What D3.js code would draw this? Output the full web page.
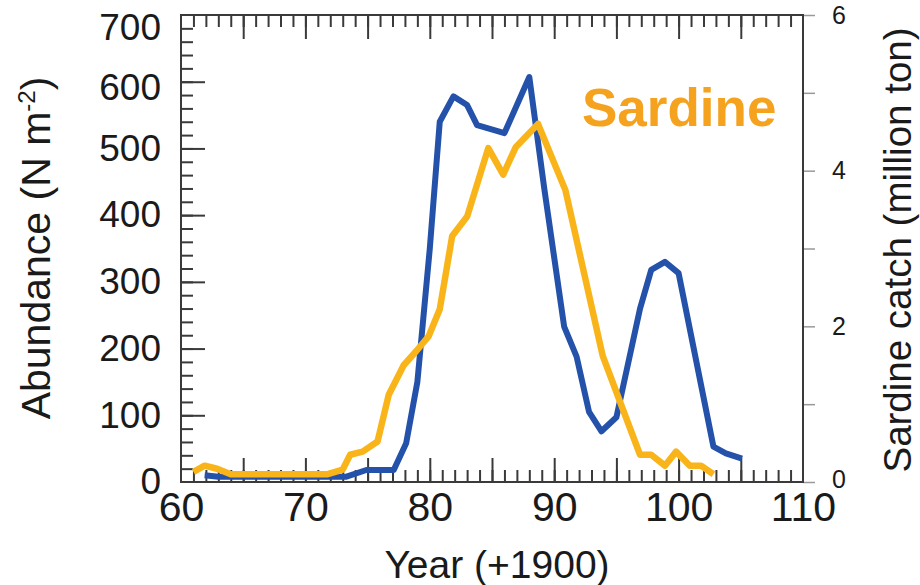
<!DOCTYPE html>
<html>
<head>
<meta charset="utf-8">
<script src="https://cdn.jsdelivr.net/npm/d3@7"></script>
<style>
  body { margin: 0; background: #fff; }
  svg { display: block; font-family: 'Liberation Sans', Arial, sans-serif; }
</style>
</head>
<body>
<svg id="chart" width="920" height="585"></svg>
<script>
// abundance (blue, left axis)
const abundanceYears = [61.9, 63, 73.3, 74.9, 77.1, 78.1, 79, 80, 80.8, 81.9, 83.0, 83.8, 86.0, 88.0, 89.2, 90.8, 91.8, 92.8, 93.8, 95.0, 96.9, 97.8, 98.9, 100.0, 102.8, 103.8, 105.1]
const abundance = [10, 8, 8, 18, 18, 58, 150, 350, 540, 578, 565, 535, 523, 607, 440, 233, 188, 105, 76, 97, 260, 318, 330, 313, 53, 43, 35]

// sardine catch (orange, right axis)
const catchYears = [61.0, 61.9, 62.9, 64.0, 71.8, 73.0, 73.6, 74.6, 75.8, 76.7, 77.9, 78.9, 79.9, 80.8, 81.8, 83.0, 84.7, 85.9, 86.9, 88.7, 90.9, 93.9, 96.9, 97.8, 98.9, 99.8, 100.9, 101.8, 102.8]
const sardineCatch = [0.13, 0.21, 0.17, 0.1, 0.1, 0.16, 0.35, 0.39, 0.52, 1.12, 1.5, 1.68, 1.87, 2.22, 3.16, 3.41, 4.29, 3.95, 4.3, 4.6, 3.75, 1.62, 0.35, 0.35, 0.21, 0.39, 0.21, 0.21, 0.1]

const xLabelTicks = [60, 70, 80, 90, 100, 110]
const leftLabelTicks = [0, 100, 200, 300, 400, 500, 600, 700]
const rightLabelTicks = [0, 2, 4, 6]

const svg = d3.select('#chart')
const plotLeft = 181
const plotRight = 803
const plotTop = 15
const plotBottom = 482
const frameColor = '#3a3a3a'

const x = d3.scaleLinear().domain([60, 110]).range([plotLeft, plotRight])
const y = d3.scaleLinear().domain([0, 700]).range([plotBottom, plotTop])
const y2 = d3.scaleLinear().domain([0, 6]).range([plotBottom, plotTop])

function styleAxis (g) {
  g.select('.domain').remove()
  g.selectAll('.tick line').attr('stroke', frameColor).attr('stroke-width', 2)
  g.selectAll('text').attr('fill', '#1a1a1a')
}

// minor ticks
svg.append('g')
  .attr('transform', `translate(0,${plotBottom})`)
  .call(d3.axisBottom(x).tickValues(d3.range(61, 110)).tickSizeInner(-12).tickSizeOuter(0).tickFormat(''))
  .call(styleAxis)
svg.append('g')
  .attr('transform', `translate(0,${plotTop})`)
  .call(d3.axisTop(x).tickValues(d3.range(61, 110)).tickSizeInner(-12).tickSizeOuter(0).tickFormat(''))
  .call(styleAxis)
svg.append('g')
  .attr('transform', `translate(${plotLeft},0)`)
  .call(d3.axisLeft(y).tickValues(d3.range(20, 700, 20)).tickSizeInner(-12).tickSizeOuter(0).tickFormat(''))
  .call(styleAxis)

// major ticks (every 5 years / every 100)
svg.append('g')
  .attr('transform', `translate(0,${plotBottom})`)
  .call(d3.axisBottom(x).tickValues(d3.range(65, 110, 5)).tickSizeInner(-24).tickSizeOuter(0).tickFormat(''))
  .call(styleAxis)
svg.append('g')
  .attr('transform', `translate(0,${plotTop})`)
  .call(d3.axisTop(x).tickValues(d3.range(65, 110, 5)).tickSizeInner(-24).tickSizeOuter(0).tickFormat(''))
  .call(styleAxis)
svg.append('g')
  .attr('transform', `translate(${plotLeft},0)`)
  .call(d3.axisLeft(y).tickValues(d3.range(100, 700, 100)).tickSizeInner(-24).tickSizeOuter(0).tickFormat(''))
  .call(styleAxis)

// labels
svg.append('g')
  .attr('transform', `translate(0,${plotBottom})`)
  .call(d3.axisBottom(x).tickValues(xLabelTicks).tickSize(0).tickPadding(10))
  .call(styleAxis)
  .call(g => g.selectAll('text').attr('font-size', 41))
  .attr('font-family', null)
svg.append('g')
  .attr('transform', `translate(${plotLeft},0)`)
  .call(d3.axisLeft(y).tickValues(leftLabelTicks).tickSize(0).tickPadding(20))
  .call(styleAxis)
  .call(g => g.selectAll('text').attr('font-size', 37)
    .attr('dy', d => d === 700 ? '0.67em' : d === 600 ? '0.48em' : '0.32em'))
  .attr('font-family', null)

// right axis, outside ticks
svg.append('g')
  .attr('transform', `translate(${plotRight},0)`)
  .call(d3.axisRight(y2).tickValues(d3.range(0, 7)).tickSizeInner(12).tickSizeOuter(0).tickPadding(17)
    .tickFormat(d => rightLabelTicks.includes(d) ? d : ''))
  .call(styleAxis)
  .call(g => g.selectAll('.tick line').attr('stroke', '#999').attr('stroke-width', 1.5))
  .call(g => g.selectAll('text').attr('font-size', 25).attr('dy', d => d === 0 ? '0.2em' : '0.32em'))
  .attr('font-family', null)

// frame
svg.append('rect')
  .attr('x', plotLeft).attr('y', plotTop)
  .attr('width', plotRight - plotLeft).attr('height', plotBottom - plotTop)
  .attr('fill', 'none').attr('stroke', frameColor).attr('stroke-width', 2)

// lines
const blueLine = d3.line().x((d, i) => x(abundanceYears[i])).y(d => y(d))
const orangeLine = d3.line().x((d, i) => x(catchYears[i])).y(d => y2(d))

svg.append('path')
  .datum(abundance)
  .attr('d', blueLine)
  .attr('fill', 'none')
  .attr('stroke', '#2452aa')
  .attr('stroke-width', 6)
  .attr('stroke-linejoin', 'round')

svg.append('path')
  .datum(sardineCatch)
  .attr('d', orangeLine)
  .attr('fill', 'none')
  .attr('stroke', '#f9b419')
  .attr('stroke-width', 6.5)
  .attr('stroke-linejoin', 'round')

// series label
svg.append('text')
  .attr('x', 582).attr('y', 126)
  .attr('font-size', 53).attr('font-weight', 'bold')
  .attr('fill', '#f5a31f')
  .text('Sardine')

// axis titles
svg.append('text')
  .attr('x', 497).attr('y', 578)
  .attr('text-anchor', 'middle')
  .attr('font-size', 39).attr('fill', '#1a1a1a')
  .text('Year (+1900)')

const yTitle = svg.append('text')
  .attr('transform', 'translate(50,248) rotate(-90)')
  .attr('text-anchor', 'middle')
  .attr('font-size', 41).attr('fill', '#1a1a1a')
yTitle.append('tspan').text('Abundance (N m')
yTitle.append('tspan').attr('font-size', 24).attr('dy', -15).text('-2')
yTitle.append('tspan').attr('dy', 15).text(')')

svg.append('text')
  .attr('transform', 'translate(911,250) rotate(-90)')
  .attr('text-anchor', 'middle')
  .attr('font-size', 38.5).attr('fill', '#1a1a1a')
  .text('Sardine catch (million ton)')
</script>
</body>
</html>
